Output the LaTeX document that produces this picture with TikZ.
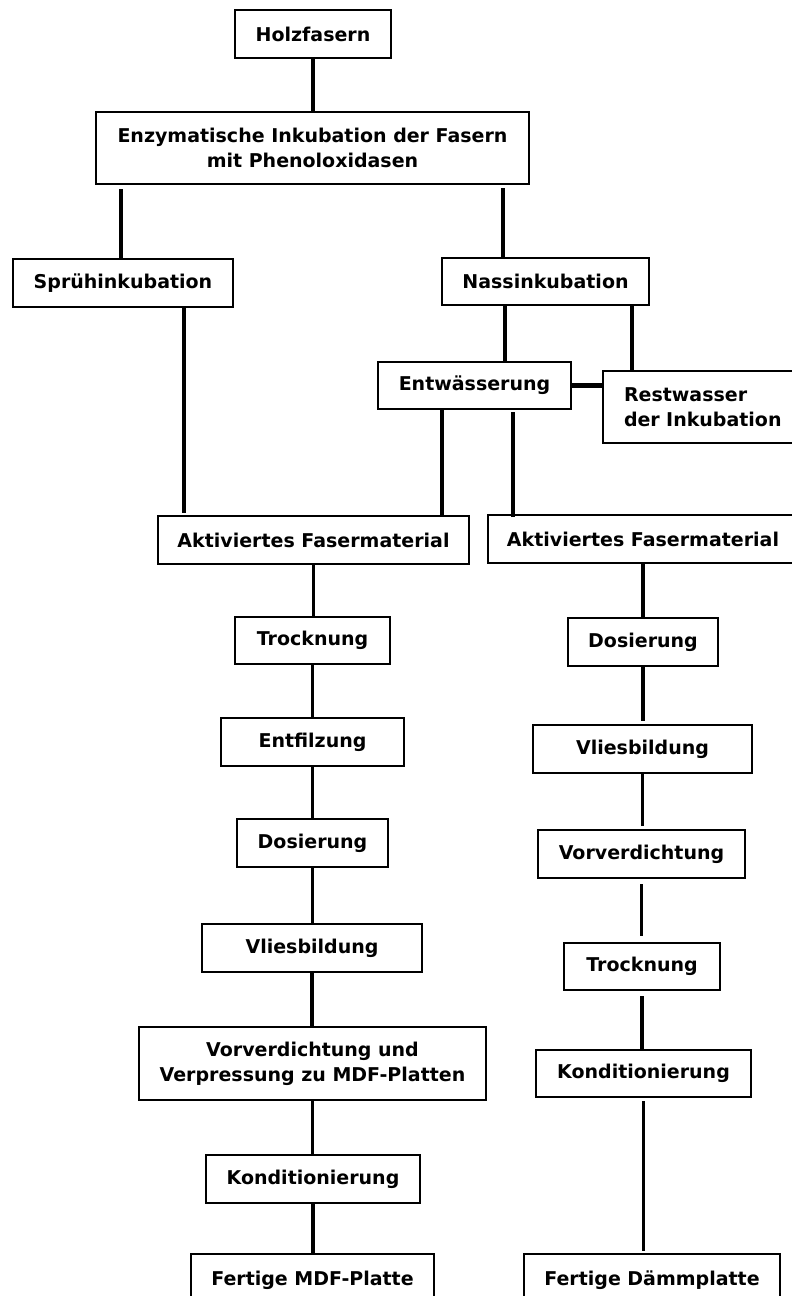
\documentclass[tikz,border=0pt]{standalone}
\usepackage{fontspec}
\setmainfont{DejaVu Sans}
\usetikzlibrary{calc}
\begin{document}
\begin{tikzpicture}[x=1bp,y=-1bp,
  box/.style={draw, line width=2bp, inner sep=0pt, align=center,
    font=\fontsize{19bp}{25bp}\selectfont\bfseries, minimum height=48bp},
  conn/.style={line width=3.8bp}]
\clip (0,0) rectangle (792,1296);
\fill[white] (0,0) rectangle (792,1296);
% nodes
\node[box, minimum width=156bp] (holz) at (313,34) {Holzfasern};
\node[box, minimum width=433bp, minimum height=72bp] (enz) at (312.5,148) {Enzymatische Inkubation der Fasern\\mit Phenoloxidasen};
\node[box, minimum width=220bp] (spr) at (123,283) {Sprühinkubation};
\node[box, minimum width=207bp, minimum height=47bp] (nass) at (545.5,281.5) {Nassinkubation};
\node[box, minimum width=193bp, minimum height=47bp] (entw) at (474.5,385.5) {Entwässerung};
\node[box, anchor=west, align=left, text width=175bp, inner xsep=21bp, minimum height=72bp] (rest) at (602,407) {Restwasser\\der Inkubation};
\node[box, minimum width=311bp] (aktL) at (313.5,540) {Aktiviertes Fasermaterial};
\node[box, minimum width=310bp] (aktR) at (643,539) {Aktiviertes Fasermaterial};
% left chain
\node[box, minimum width=155bp, minimum height=47bp] (trL) at (312.5,640.5) {Trocknung};
\node[box, minimum width=183bp] (entf) at (312.5,742) {Entfilzung};
\node[box, minimum width=151bp] (dosL) at (312.5,843) {Dosierung};
\node[box, minimum width=220bp] (vlL) at (312,948) {Vliesbildung};
\node[box, minimum width=347bp, minimum height=73bp] (vorL) at (312.5,1063.5) {Vorverdichtung und\\Verpressung zu MDF-Platten};
\node[box, minimum width=214bp] (konL) at (313,1179) {Konditionierung};
\node[box, minimum width=243bp, minimum height=52bp] (ferL) at (312.5,1280) {Fertige MDF-Platte};
% right chain
\node[box, minimum width=150bp] (dosR) at (643,642) {Dosierung};
\node[box, minimum width=219bp] (vlR) at (642.5,749) {Vliesbildung};
\node[box, minimum width=207bp] (vorR) at (641.5,854) {Vorverdichtung};
\node[box, minimum width=156bp, minimum height=47bp] (trR) at (642,966.5) {Trocknung};
\node[box, minimum width=215bp, minimum height=47bp] (konR) at (643.5,1073.5) {Konditionierung};
\node[box, minimum width=256bp, minimum height=52bp] (ferR) at (652,1280) {Fertige Dämmplatte};
% column coordinates
\coordinate (cA) at (121,0);
\coordinate (cB) at (503,0);
\coordinate (cC) at (184,0);
\coordinate (cD) at (505,0);
\coordinate (cE) at (632,0);
\coordinate (cF) at (442,0);
\coordinate (cG) at (513,0);
% connectors
\draw[conn] (holz.south) -- (holz.south |- enz.north);
\draw[conn, shorten <=4bp] (cA |- enz.south) -- (cA |- spr.north);
\draw[conn, shorten <=3bp] (cB |- enz.south) -- (cB |- nass.north);
\draw[conn, shorten >=2bp] (cC |- spr.south) -- (cC |- aktL.north);
\draw[conn] (cD |- nass.south) -- (cD |- entw.north);
\draw[conn] (cE |- nass.south) -- (cE |- rest.north);
\draw[conn] (cF |- entw.south) -- (cF |- aktL.north);
\draw[conn, shorten <=2bp, shorten >=-3bp] (cG |- entw.south) -- (cG |- aktR.north);
\draw[line width=4.5bp] (entw.east) -- (entw.east -| rest.west);
% left chain connectors
\draw[conn] (aktL.south) -- (aktL.south |- trL.north);
\draw[conn] (trL.south) -- (trL.south |- entf.north);
\draw[conn] (entf.south) -- (entf.south |- dosL.north);
\draw[conn] (dosL.south) -- (dosL.south |- vlL.north);
\draw[conn] (vlL.south) -- (vlL.south |- vorL.north);
\draw[conn] (vorL.south) -- (vorL.south |- konL.north);
\draw[conn] (konL.south) -- (konL.south |- ferL.north);
% right chain connectors
\draw[conn] (aktR.south) -- (aktR.south |- dosR.north);
\draw[conn, shorten >=3bp] (dosR.south) -- (dosR.south |- vlR.north);
\draw[conn, shorten >=3bp] (vlR.south) -- (vlR.south |- vorR.north);
\draw[conn, shorten <=5bp, shorten >=6bp] (vorR.south) -- (vorR.south |- trR.north);
\draw[conn, shorten <=5bp] (trR.south) -- (trR.south |- konR.north);
\draw[conn, shorten <=3bp, shorten >=2bp] (konR.south) -- (konR.south |- ferR.north);
\end{tikzpicture}
\end{document}
